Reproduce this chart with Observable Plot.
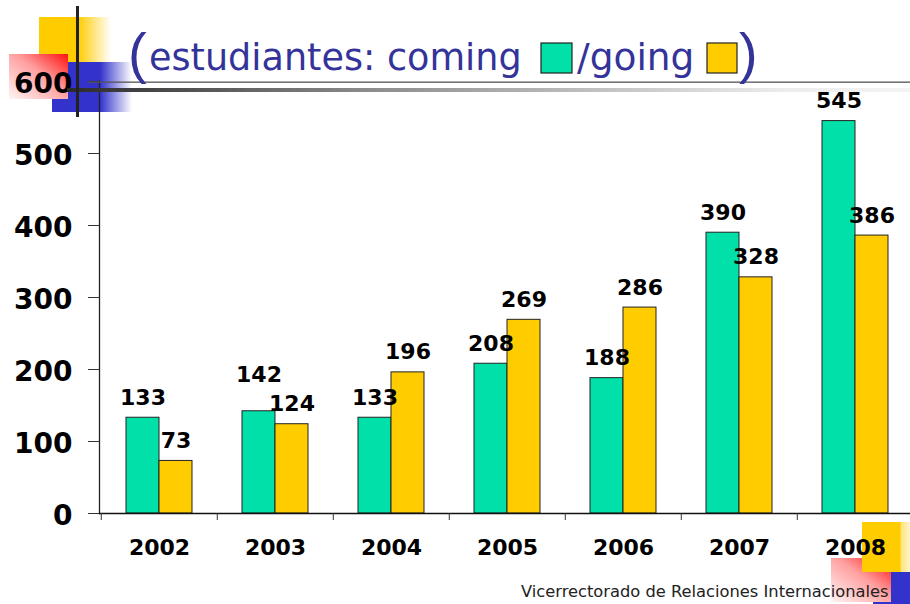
<!DOCTYPE html>
<html>
<head>
<meta charset="utf-8">
<script src="https://cdn.jsdelivr.net/npm/d3@7"></script>
<script src="https://cdn.jsdelivr.net/npm/@observablehq/plot@0.6"></script>
<style>
  html, body { margin: 0; padding: 0; background: #fff; }
  #slide { position: relative; width: 910px; height: 604px; overflow: hidden; background: #fff; }
  .layer { position: absolute; left: 0; top: 0; }
  .deco { position: absolute; }
</style>
</head>
<body>
<div id="slide">
  <!-- background decorations -->
  <div class="deco" style="left:39px;top:17px;width:72px;height:45px;background:linear-gradient(to right,#ffcc00 0,#ffcc00 39px,rgba(255,204,0,0) 72px);"></div>
  <div class="deco" style="left:52px;top:62px;width:80px;height:50px;background:linear-gradient(to right,#3333cc 0,#3333cc 48px,rgba(51,51,204,0) 80px);"></div>
  <div class="deco" style="left:9px;top:54px;width:59px;height:45px;background:linear-gradient(to bottom left,#ff1010 0%,#ffa0a0 45%,#fff4f4 100%);"></div>
  <div class="deco" style="left:873px;top:572px;width:37px;height:32px;background:#3333cc;"></div>
  <div class="deco" style="left:831px;top:558px;width:60px;height:44px;background:linear-gradient(to bottom left,#ff1010 0%,#ffa0a0 45%,#fff4f4 100%);"></div>
  <div class="deco" style="left:862px;top:522px;width:48px;height:50px;background:linear-gradient(to right,#ffcc00 0,#ffcc00 38px,#ffe27a 39px,#fff4cc 48px);"></div>
  <div id="chart" class="layer" style="z-index:1"></div>
  <svg id="front" class="layer" width="910" height="604" style="z-index:2;pointer-events:none"></svg>
</div>
<script>
// ---- data ----
const years = ["2002", "2003", "2004", "2005", "2006", "2007", "2008"];
const coming = [133, 142, 133, 208, 188, 390, 545];
const going = [73, 124, 196, 269, 286, 328, 386];
const seriesNames = ["coming", "going"];
const seriesColors = ["#00e0a8", "#ffcc00"];
const yTicks = [0, 100, 200, 300, 400, 500, 600];
const titleText = "estudiantes: coming";
const titleText2 = "/going";
const footerText = "Vicerrectorado de Relaciones Internacionales";

const rows = years.flatMap((y, i) => [
  {year: y, series: seriesNames[0], value: coming[i], other: going[i]},
  {year: y, series: seriesNames[1], value: going[i], other: coming[i]}
]);
// raise the label of the taller bar when the two labels of a pair would collide
const labelY = d => (d.value >= d.other && d.value - d.other < 40) ? d.other + 40 : d.value;

const W = 910, H = 604;
const xLeft = 99, xRight = 914;
const bw = (xRight - xLeft) / years.length;
const font = "Tahoma, 'DejaVu Sans', sans-serif";

const chart = Plot.plot({
  width: W,
  height: H,
  marginLeft: xLeft,
  marginRight: 0,
  marginTop: 81,
  marginBottom: 91,
  x: {type: "band", domain: years, range: [xLeft, xRight], padding: 0, axis: null},
  y: {domain: [0, 600], axis: null},
  style: {background: "transparent", fontFamily: font, fontWeight: "bold", color: "#000", overflow: "visible"},
  marks: [
    Plot.barY(rows.filter(d => d.series === seriesNames[0]), {
      x: "year", y: "value", fill: seriesColors[0], stroke: "#222", strokeWidth: 1,
      insetLeft: 25, insetRight: 58
    }),
    Plot.barY(rows.filter(d => d.series === seriesNames[1]), {
      x: "year", y: "value", fill: seriesColors[1], stroke: "#222", strokeWidth: 1,
      insetLeft: 58, insetRight: 25
    }),
    Plot.text(rows.filter(d => d.series === seriesNames[0]), {
      x: "year", y: labelY, text: d => String(d.value), dx: -16.5, dy: -13,
      lineAnchor: "bottom", fontSize: 22, fontWeight: "bold", fill: "#000"
    }),
    Plot.text(rows.filter(d => d.series === seriesNames[1]), {
      x: "year", y: labelY, text: d => String(d.value), dx: 16.5, dy: -13,
      lineAnchor: "bottom", fontSize: 22, fontWeight: "bold", fill: "#000"
    }),
    Plot.frame({anchor: "left", stroke: "#222", strokeWidth: 1.3}),
    Plot.frame({anchor: "bottom", stroke: "#111", strokeWidth: 1.5}),
    Plot.axisY({ticks: yTicks, label: null, tickSize: 11, tickFormat: () => "", stroke: "#333"}),
    Plot.axisY({ticks: yTicks, label: null, tickSize: 0, tickPadding: 27, dy: 3, fontSize: 28, fontWeight: "bold", fill: "#000"}),
    Plot.axisX({label: null, tickSize: 7, tickFormat: () => "", dx: -bw / 2, stroke: "#333"}),
    Plot.axisX({label: null, tickSize: 0, tickPadding: 26, fontSize: 22, fontWeight: "bold", fill: "#000"})
  ]
});
document.getElementById("chart").appendChild(chart);

// ---- front decorations: title, rules, footer ----
const svg = d3.select("#front");
const defs = svg.append("defs");
const g1 = defs.append("linearGradient").attr("id", "rulegrad").attr("x1", 0).attr("x2", 1).attr("y1", 0).attr("y2", 0);
g1.append("stop").attr("offset", "0%").attr("stop-color", "#2a2a2a");
g1.append("stop").attr("offset", "35%").attr("stop-color", "#8a8a8a");
g1.append("stop").attr("offset", "85%").attr("stop-color", "#ececec");
g1.append("stop").attr("offset", "100%").attr("stop-color", "#f4f4f4");

svg.append("rect").attr("x", 67).attr("y", 88).attr("width", 843).attr("height", 4).attr("fill", "url(#rulegrad)");
svg.append("rect").attr("x", 88).attr("y", 81.5).attr("width", 822).attr("height", 1.3).attr("fill", "#555");
svg.append("rect").attr("x", 76).attr("y", 6).attr("width", 3).attr("height", 111).attr("fill", "#222");

const blue = "#333399";
svg.append("text").attr("x", 128).attr("y", 72).attr("fill", blue)
  .attr("font-family", "'Liberation Sans', Arial, sans-serif").attr("font-size", 56).text("(");
svg.append("text").attr("x", 149).attr("y", 70).attr("fill", blue)
  .attr("font-family", font).attr("font-size", 36.6).text(titleText);
svg.append("rect").attr("x", 541).attr("y", 43).attr("width", 31).attr("height", 30)
  .attr("fill", seriesColors[0]).attr("stroke", "#222").attr("stroke-width", 1.2);
svg.append("text").attr("x", 577).attr("y", 70).attr("fill", blue)
  .attr("font-family", font).attr("font-size", 37.5).text(titleText2);
svg.append("rect").attr("x", 707).attr("y", 43).attr("width", 30).attr("height", 30)
  .attr("fill", seriesColors[1]).attr("stroke", "#222").attr("stroke-width", 1.2);
svg.append("text").attr("x", 739).attr("y", 72).attr("fill", blue)
  .attr("font-family", "'Liberation Sans', Arial, sans-serif").attr("font-size", 56).text(")");

svg.append("text").attr("x", 521).attr("y", 597).attr("fill", "#222")
  .attr("font-family", font).attr("font-size", 16.3).text(footerText);
</script>
</body>
</html>
